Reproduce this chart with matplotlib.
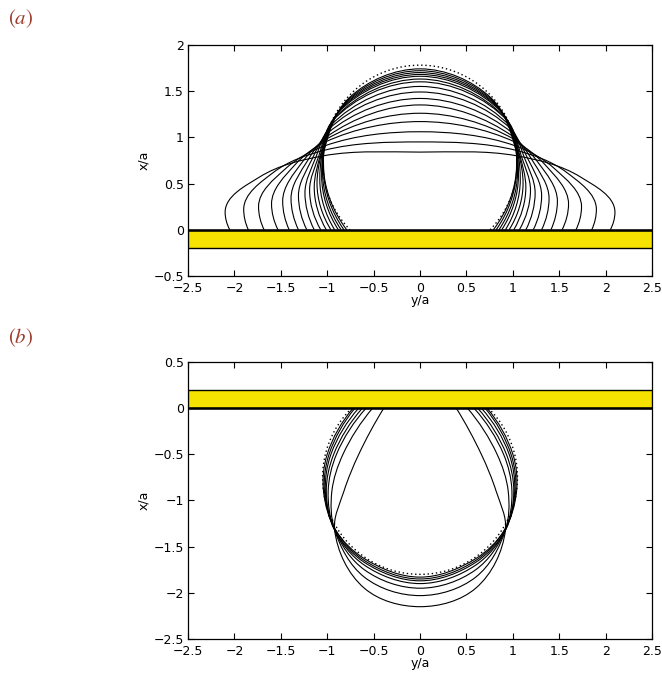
import numpy as np
import matplotlib
matplotlib.use("Agg")
import matplotlib.pyplot as plt
from matplotlib.path import Path
from matplotlib.patches import PathPatch, Arc, Rectangle
from matplotlib.ticker import FuncFormatter

# ---------------- data ----------------
# panel (a): drop sitting on the wall; 16 deformed profiles (k=0 tallest ... k=15 flattest)
top_a      = [1.74, 1.72, 1.70, 1.68, 1.66, 1.63, 1.60, 1.55, 1.49, 1.42, 1.35, 1.26, 1.17, 1.06, 0.95, 0.84]
contact_a  = [0.79, 0.82, 0.85, 0.88, 0.92, 0.96, 1.01, 1.07, 1.14, 1.22, 1.31, 1.41, 1.53, 1.68, 1.85, 2.05]
lobe_w_a   = [1.04, 1.04, 1.05, 1.06, 1.08, 1.11, 1.14, 1.19, 1.24, 1.31, 1.39, 1.48, 1.60, 1.74, 1.90, 2.10]
lobe_h_a   = [0.70, 0.66, 0.62, 0.58, 0.54, 0.50, 0.46, 0.43, 0.40, 0.37, 0.34, 0.31, 0.28, 0.25, 0.22, 0.19]
upper_y_a  = [1.03, 1.03, 1.04, 1.04, 1.05, 1.06, 1.07, 1.09, 1.12, 1.16, 1.21, 1.27, 1.35, 1.45, 1.58, 1.73]
upper_x_a  = [0.88, 0.87, 0.86, 0.85, 0.84, 0.83, 0.82, 0.80, 0.79, 0.77, 0.75, 0.73, 0.70, 0.66, 0.62, 0.57]
shoul_y_a  = [0.76, 0.79, 0.82, 0.85, 0.88, 0.91, 0.94, 0.96, 0.98, 0.99, 1.00, 1.01, 1.02, 1.02, 1.03, 1.04]
shoul_x_a  = [1.43, 1.39, 1.35, 1.31, 1.27, 1.22, 1.18, 1.13, 1.09, 1.05, 1.01, 0.98, 0.95, 0.91, 0.86, 0.80]
circle_a   = (0.73, 1.05)          # centre x/a, radius of the dotted circle

# panel (b): pendant drop under the wall; 7 profiles (half-widths read at fixed depths)
contact_b  = [0.72, 0.70, 0.66, 0.62, 0.58, 0.51, 0.39]     # at x/a = 0
w05_b      = [1.00, 0.98, 0.96, 0.93, 0.90, 0.83, 0.66]     # at x/a = -0.5
w09_b      = [1.04, 1.03, 1.02, 1.01, 0.99, 0.95, 0.82]     # at x/a = -0.9
w132_b     = [0.91, 0.91, 0.92, 0.92, 0.92, 0.92, 0.92]     # at x/a = -1.32 (common crossing)
depth_b    = [-0.5, -0.9, -1.32]
shoul_y_b  = [0.60, 0.60, 0.60, 0.60, 0.60, 0.60, 0.60]
shoul_x_b  = [-1.63, -1.65, -1.67, -1.70, -1.75, -1.83, -1.95]
bottom_b   = [-1.83, -1.85, -1.87, -1.90, -1.95, -2.03, -2.15]
circle_b   = (-0.75, 1.05)

wall_a = (-0.2, 0.0)
wall_b = (0.0, 0.2)

xticks = [-2.5, -2, -1.5, -1, -0.5, 0, 0.5, 1, 1.5, 2, 2.5]
yticks_a = [-0.5, 0, 0.5, 1, 1.5, 2]
yticks_b = [-2.5, -2, -1.5, -1, -0.5, 0, 0.5]

YELLOW = '#f5e200'
LABEL_COLOR = '#9c3a2c'


def _unit(v):
    n = np.hypot(*v)
    return v / n if n > 0 else v


def smooth_path(pts, vert_idx=()):
    """Smooth curve through the given points (chord-length cardinal spline as Bezier)."""
    pts = np.asarray(pts, float)
    n = len(pts)
    d = np.zeros_like(pts)
    for i in range(1, n - 1):
        d[i] = _unit(_unit(pts[i] - pts[i - 1]) + _unit(pts[i + 1] - pts[i]))
    for i in vert_idx:
        s = np.sign(pts[i + 1][1] - pts[i - 1][1])
        d[i] = (0.0, s)
    d[0] = _unit(2 * _unit(pts[1] - pts[0]) - d[1])
    d[-1] = _unit(2 * _unit(pts[-1] - pts[-2]) - d[-2])
    verts = [pts[0]]
    codes = [Path.MOVETO]
    for i in range(n - 1):
        L = np.hypot(*(pts[i + 1] - pts[i])) / 3.0
        verts += [pts[i] + d[i] * L, pts[i + 1] - d[i + 1] * L, pts[i + 1]]
        codes += [Path.CURVE4] * 3
    return Path(verts, codes)


def mirrored(right):
    left = [(-p[0], p[1]) for p in right[:-1][::-1]]
    return right + left


def style_axes(ax, yticks, ylim):
    ax.set_xlim(-2.5, 2.5)
    ax.set_ylim(*ylim)
    ax.set_xticks(xticks)
    ax.set_yticks(yticks)
    fmt = FuncFormatter(lambda v, p: ('%g' % v).replace('-', '\u2212'))
    ax.xaxis.set_major_formatter(fmt)
    ax.yaxis.set_major_formatter(fmt)
    ax.tick_params(direction='in', top=True, right=True, length=4, width=0.8,
                   labelsize=9)
    ax.tick_params(axis='x', pad=4.5)
    ax.tick_params(axis='y', pad=3)
    for s in ax.spines.values():
        s.set_linewidth(0.9)
    ax.set_xlabel('y/a', fontsize=9, labelpad=-1)
    ax.set_ylabel('x/a', fontsize=9, labelpad=2)


def dotted_circle(ax, centre, radius):
    th = np.degrees(np.arcsin(-centre / radius))
    if centre > 0:
        t1, t2 = th, 180 - th
    else:
        t1, t2 = 180 - th, 360 + th
    ax.add_patch(Arc((0, centre), 2 * radius, 2 * radius, theta1=t1, theta2=t2,
                     color='black', lw=1.0, linestyle=(0, (1, 2.0))))


fig = plt.figure(figsize=(6.62, 6.76), dpi=100)

# ---------------- panel (a) ----------------
axa = fig.add_axes([0.284, 0.5917, 0.701, 0.342])
axa.add_patch(Rectangle((-2.5, wall_a[0]), 5, wall_a[1] - wall_a[0],
                        facecolor=YELLOW, edgecolor='black', lw=1.0, zorder=3))
axa.axhline(wall_a[1], color='black', lw=1.8, zorder=4)
for k in range(len(top_a)):
    right = [(contact_a[k], 0.0), (lobe_w_a[k], lobe_h_a[k]),
             (upper_y_a[k], upper_x_a[k]), (shoul_y_a[k], shoul_x_a[k]),
             (0.0, top_a[k])]
    pts = mirrored(right)
    path = smooth_path(pts, [1, len(pts) - 2])
    axa.add_patch(PathPatch(path, facecolor='none', edgecolor='black', lw=0.8))
dotted_circle(axa, *circle_a)
style_axes(axa, yticks_a, (-0.5, 2.0))

# ---------------- panel (b) ----------------
axb = fig.add_axes([0.284, 0.0547, 0.701, 0.410])
axb.add_patch(Rectangle((-2.5, wall_b[0]), 5, wall_b[1] - wall_b[0],
                        facecolor=YELLOW, edgecolor='black', lw=1.0, zorder=3))
axb.axhline(wall_b[0], color='black', lw=1.8, zorder=4)
for k in range(len(bottom_b)):
    right = [(contact_b[k], 0.0), (w05_b[k], depth_b[0]), (w09_b[k], depth_b[1]),
             (w132_b[k], depth_b[2]), (shoul_y_b[k], shoul_x_b[k]),
             (0.0, bottom_b[k])]
    pts = mirrored(right)
    path = smooth_path(pts)
    axb.add_patch(PathPatch(path, facecolor='none', edgecolor='black', lw=0.8))
dotted_circle(axb, *circle_b)
style_axes(axb, yticks_b, (-2.5, 0.5))

plt.rcParams['mathtext.fontset'] = 'stix'
fig.text(0.012, 0.972, r'$(a)$', fontsize=15, color=LABEL_COLOR, va='center')
fig.text(0.012, 0.500, r'$(b)$', fontsize=15, color=LABEL_COLOR, va='center')

fig.savefig('out.png', dpi=100)
